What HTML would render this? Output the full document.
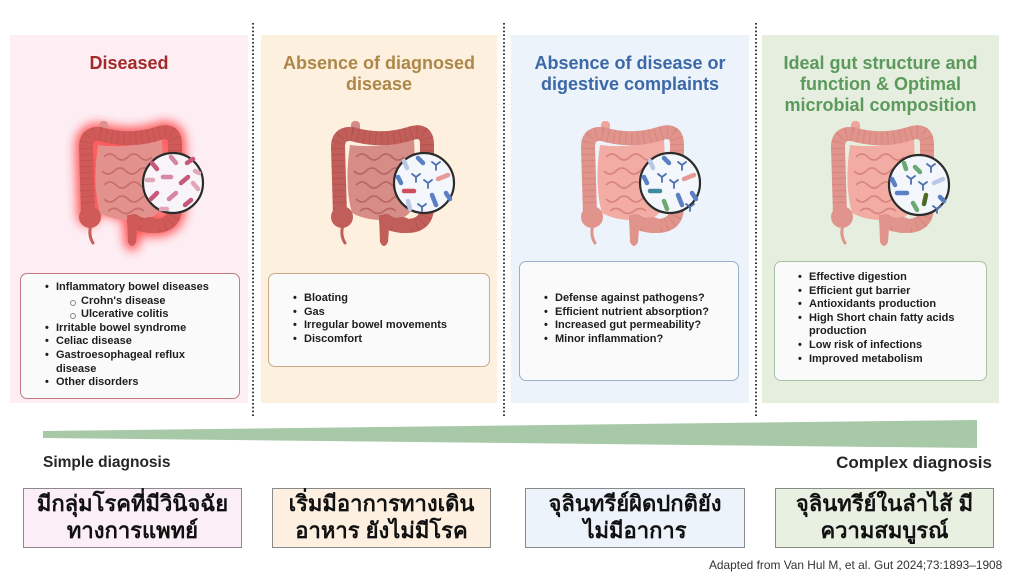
<!DOCTYPE html>
<html><head><meta charset="utf-8">
<style>
*{margin:0;padding:0;box-sizing:border-box}
body{width:1024px;height:576px;background:#fff;position:relative;overflow:hidden;font-family:"Liberation Sans","Noto Sans CJK SC",sans-serif}
.panel{position:absolute;top:35px;height:368px}
.title{position:absolute;left:0;right:0;top:53px;text-align:center;font-weight:bold;font-size:18px;line-height:21px}
.box{position:absolute;border-radius:7px;background:#fbfafa;border:1.5px solid}
.list{position:absolute;font-weight:bold;font-size:11px;line-height:13.6px;color:#1e1e1e;white-space:nowrap}
.li{position:relative;padding-left:11px}
.li:before{content:"•";position:absolute;left:0;top:0}
.sub{position:relative;padding-left:36px}
.sub:before{content:"";position:absolute;left:25px;top:5px;width:4px;height:4px;border:1px solid #888;border-radius:50%}
.th{position:absolute;top:488px;height:60px;border:1.3px solid #8a8a8a;text-align:center;font-weight:bold;font-size:22px;line-height:27px;padding-top:1px;color:#111;font-family:"Liberation Sans","Noto Sans CJK SC",sans-serif}
svg{position:absolute;left:0;top:0}
</style></head><body>

<div class="panel" style="left:10px;width:238px;background:#fdeef4"></div>
<div class="panel" style="left:261px;width:236px;background:#fdf0df"></div>
<div class="panel" style="left:511px;width:238px;background:#edf3fb"></div>
<div class="panel" style="left:762px;width:237px;background:#e6efdf"></div>

<svg width="1024" height="576" viewBox="0 0 1024 576">
<defs>
<filter id="gl" x="-30%" y="-30%" width="160%" height="160%"><feGaussianBlur stdDeviation="5"/></filter>
</defs>
<g stroke="#3a3a3a" stroke-width="2" stroke-dasharray="1.6 2.2" fill="none">
<line x1="253" y1="23" x2="253" y2="416"/>
<line x1="504" y1="23" x2="504" y2="416"/>
<line x1="756" y1="23" x2="756" y2="416"/>
</g>
<polygon points="43,431 977,420 977,448 43,438" fill="#a7c9a7"/>

<!-- Panel 1 gut -->
<g transform="translate(78,125)">
 <g filter="url(#gl)" opacity=".75">
  <path d="M10 90 L8 22 Q8 8 22 9 Q52 18 82 8 Q97 4 97 20 L97 82 Q97 100 78 101 Q62 101 56 96" stroke="#ff2a2a" stroke-width="22" fill="none" stroke-linecap="round"/>
  <path d="M20 20 Q50 24 84 14 L86 60 Q88 88 70 94 Q40 98 22 88 Q14 60 20 20Z" fill="#ff2a2a"/>
  <path d="M48 90 L50 118 Q54 126 58 118 L61 90Z" fill="#ff2a2a" stroke="#ff2a2a" stroke-width="8"/>
 </g>
 <rect x="21" y="-4" width="9" height="16" rx="4" fill="#e2908c"/>
 <path d="M20 20 Q50 24 84 14 L86 60 Q88 88 70 94 Q40 98 22 88 Q14 60 20 20Z" fill="#e2918d"/>
 <path d="M26 32 q6 -6 12 0 t12 0 t12 0 t12 0 M24 46 q6 6 12 0 t12 0 t12 0 t12 0 M26 60 q6 -6 12 0 t12 0 t12 0 t12 0 M26 74 q6 6 12 0 t12 0 t12 0 t12 0 M30 86 q6 -5 12 0 t12 0 t12 0" stroke="#c66e6b" stroke-width="1.6" fill="none"/>
 <path d="M10 90 L8 22 Q8 8 22 9 Q52 18 82 8 Q97 4 97 20 L97 82 Q97 100 78 101 Q62 101 56 96" stroke="#cf5a58" stroke-width="14" fill="none" stroke-linecap="round" stroke-linejoin="round"/>
 <path d="M10 90 L8 22 Q8 8 22 9 Q52 18 82 8 Q97 4 97 20 L97 82 Q97 100 78 101 Q62 101 56 96" stroke="#a84442" stroke-width="14" fill="none" stroke-dasharray="1 5" opacity=".3"/>
 <ellipse cx="12" cy="92" rx="11" ry="11" fill="#cf5a58"/>
 <ellipse cx="72" cy="100" rx="10" ry="8" fill="#cf5a58"/>
 <path d="M49 90 L50 117 Q54 125 58 117 L60 90Z" fill="#cf5a58"/>
 <path d="M13 100 Q10 110 15 118" stroke="#cf5a58" stroke-width="3" fill="none" stroke-linecap="round"/>
 <g transform="translate(95,58)">
  <circle r="30" fill="#f8f4f7" stroke="#2b2b2b" stroke-width="2.2"/>
  <g stroke-linecap="round" fill="none" stroke-width="4.5">
   <line x1="-21" y1="-20" x2="-16" y2="-14" stroke="#c7587c"/>
   <line x1="-2" y1="-26" x2="3" y2="-20" stroke="#d686a2"/>
   <line x1="14" y1="-20" x2="20" y2="-24" stroke="#c7587c"/>
   <line x1="-26" y1="-3" x2="-20" y2="-3" stroke="#e0a6ba"/>
   <line x1="-10" y1="-6" x2="-2" y2="-6" stroke="#d686a2"/>
   <line x1="8" y1="0" x2="15" y2="-6" stroke="#c7587c"/>
   <line x1="20" y1="0" x2="25" y2="6" stroke="#e0a6ba"/>
   <line x1="-22" y1="16" x2="-16" y2="10" stroke="#c7587c"/>
   <line x1="-4" y1="16" x2="3" y2="10" stroke="#d686a2"/>
   <line x1="12" y1="22" x2="18" y2="17" stroke="#c7587c"/>
   <line x1="-12" y1="26" x2="-6" y2="26" stroke="#e0a6ba"/>
   <line x1="22" y1="-12" x2="26" y2="-10" stroke="#e0a6ba"/>
  </g>
 </g>
</g>

<!-- Panel 2 gut -->
<g transform="translate(330,125)">
 <rect x="21" y="-4" width="9" height="16" rx="4" fill="#d48b87"/>
 <path d="M20 20 Q50 24 84 14 L86 60 Q88 88 70 94 Q40 98 22 88 Q14 60 20 20Z" fill="#d68c87"/>
 <path d="M26 32 q6 -6 12 0 t12 0 t12 0 t12 0 M24 46 q6 6 12 0 t12 0 t12 0 t12 0 M26 60 q6 -6 12 0 t12 0 t12 0 t12 0 M26 74 q6 6 12 0 t12 0 t12 0 t12 0 M30 86 q6 -5 12 0 t12 0 t12 0" stroke="#b86763" stroke-width="1.6" fill="none"/>
 <path d="M10 90 L8 22 Q8 8 22 9 Q52 18 82 8 Q97 4 97 20 L97 82 Q97 100 78 101 Q62 101 56 96" stroke="#c25e5a" stroke-width="14" fill="none" stroke-linecap="round" stroke-linejoin="round"/>
 <path d="M10 90 L8 22 Q8 8 22 9 Q52 18 82 8 Q97 4 97 20 L97 82 Q97 100 78 101 Q62 101 56 96" stroke="#923e3b" stroke-width="14" fill="none" stroke-dasharray="1 5" opacity=".3"/>
 <ellipse cx="12" cy="92" rx="11" ry="11" fill="#c25e5a"/>
 <ellipse cx="72" cy="100" rx="10" ry="8" fill="#c25e5a"/>
 <path d="M49 90 L50 117 Q54 125 58 117 L60 90Z" fill="#c25e5a"/>
 <path d="M13 100 Q10 110 15 118" stroke="#c25e5a" stroke-width="3" fill="none" stroke-linecap="round"/>
 <g transform="translate(94,58)">
  <circle r="30" fill="#f3f7fc" stroke="#2b2b2b" stroke-width="2.2"/>
  <g stroke-linecap="round" fill="none" stroke-width="4.5">
   <line x1="-20" y1="-22" x2="-17" y2="-15" stroke="#b9c8e6"/>
   <line x1="-6" y1="-25" x2="-1" y2="-20" stroke="#5a7fc2"/>
   <line x1="14" y1="-4" x2="24" y2="-8" stroke="#e59a98"/>
   <line x1="-20" y1="8" x2="-10" y2="8" stroke="#d04e5e"/>
   <line x1="8" y1="12" x2="12" y2="22" stroke="#5a7fc2"/>
   <line x1="-16" y1="18" x2="-14" y2="26" stroke="#b9c8e6"/>
   <line x1="22" y1="10" x2="26" y2="16" stroke="#5a7fc2"/>
   <line x1="-26" y1="-6" x2="-23" y2="0" stroke="#5a7fc2"/>
  </g>
  <g stroke="#4d6fae" stroke-width="1.8" fill="none" stroke-linecap="round">
   <path d="M12 -18 v5 M12 -18 l-4 -3 M12 -18 l4 -3"/>
   <path d="M-8 -6 v5 M-8 -6 l-4 -3 M-8 -6 l4 -3"/>
   <path d="M4 0 v5 M4 0 l-4 -3 M4 0 l4 -3"/>
   <path d="M-2 24 v4 M-2 24 l-4 -3 M-2 24 l4 -3"/>
  </g>
 </g>
</g>

<!-- Panel 3 gut -->
<g transform="translate(580,125)">
 <rect x="21" y="-4" width="9" height="16" rx="4" fill="#efa59c"/>
 <path d="M20 20 Q50 24 84 14 L86 60 Q88 88 70 94 Q40 98 22 88 Q14 60 20 20Z" fill="#f2aca3"/>
 <path d="M26 32 q6 -6 12 0 t12 0 t12 0 t12 0 M24 46 q6 6 12 0 t12 0 t12 0 t12 0 M26 60 q6 -6 12 0 t12 0 t12 0 t12 0 M26 74 q6 6 12 0 t12 0 t12 0 t12 0 M30 86 q6 -5 12 0 t12 0 t12 0" stroke="#d8857e" stroke-width="1.6" fill="none"/>
 <path d="M10 90 L8 22 Q8 8 22 9 Q52 18 82 8 Q97 4 97 20 L97 82 Q97 100 78 101 Q62 101 56 96" stroke="#e0948c" stroke-width="14" fill="none" stroke-linecap="round" stroke-linejoin="round"/>
 <path d="M10 90 L8 22 Q8 8 22 9 Q52 18 82 8 Q97 4 97 20 L97 82 Q97 100 78 101 Q62 101 56 96" stroke="#b86a63" stroke-width="14" fill="none" stroke-dasharray="1 5" opacity=".3"/>
 <ellipse cx="12" cy="92" rx="11" ry="11" fill="#e0948c"/>
 <ellipse cx="72" cy="100" rx="10" ry="8" fill="#e0948c"/>
 <path d="M49 90 L50 117 Q54 125 58 117 L60 90Z" fill="#e0948c"/>
 <path d="M13 100 Q10 110 15 118" stroke="#e0948c" stroke-width="3" fill="none" stroke-linecap="round"/>
 <g transform="translate(90,58)">
  <circle r="30" fill="#f3f7fc" stroke="#2b2b2b" stroke-width="2.2"/>
  <g stroke-linecap="round" fill="none" stroke-width="4.5">
   <line x1="-20" y1="-22" x2="-17" y2="-15" stroke="#b9c8e6"/>
   <line x1="-6" y1="-25" x2="-1" y2="-20" stroke="#5a7fc2"/>
   <line x1="14" y1="-4" x2="24" y2="-8" stroke="#e59a98"/>
   <line x1="-20" y1="8" x2="-10" y2="8" stroke="#3f8a9e"/>
   <line x1="-6" y1="18" x2="-3" y2="26" stroke="#6aaa72"/>
   <line x1="8" y1="12" x2="12" y2="22" stroke="#5a7fc2"/>
   <line x1="-26" y1="-6" x2="-23" y2="0" stroke="#5a7fc2"/>
   <line x1="22" y1="10" x2="26" y2="16" stroke="#5a7fc2"/>
  </g>
  <g stroke="#4d6fae" stroke-width="1.8" fill="none" stroke-linecap="round">
   <path d="M12 -18 v5 M12 -18 l-4 -3 M12 -18 l4 -3"/>
   <path d="M-8 -6 v5 M-8 -6 l-4 -3 M-8 -6 l4 -3"/>
   <path d="M4 0 v5 M4 0 l-4 -3 M4 0 l4 -3"/>
   <path d="M20 24 v4 M20 24 l-4 -3 M20 24 l4 -3"/>
  </g>
 </g>
</g>

<!-- Panel 4 gut -->
<g transform="translate(830,125)">
 <rect x="21" y="-4" width="9" height="16" rx="4" fill="#efa59c"/>
 <path d="M20 20 Q50 24 84 14 L86 60 Q88 88 70 94 Q40 98 22 88 Q14 60 20 20Z" fill="#f2aca3"/>
 <path d="M26 32 q6 -6 12 0 t12 0 t12 0 t12 0 M24 46 q6 6 12 0 t12 0 t12 0 t12 0 M26 60 q6 -6 12 0 t12 0 t12 0 t12 0 M26 74 q6 6 12 0 t12 0 t12 0 t12 0 M30 86 q6 -5 12 0 t12 0 t12 0" stroke="#d8857e" stroke-width="1.6" fill="none"/>
 <path d="M10 90 L8 22 Q8 8 22 9 Q52 18 82 8 Q97 4 97 20 L97 82 Q97 100 78 101 Q62 101 56 96" stroke="#e0948c" stroke-width="14" fill="none" stroke-linecap="round" stroke-linejoin="round"/>
 <path d="M10 90 L8 22 Q8 8 22 9 Q52 18 82 8 Q97 4 97 20 L97 82 Q97 100 78 101 Q62 101 56 96" stroke="#b86a63" stroke-width="14" fill="none" stroke-dasharray="1 5" opacity=".3"/>
 <ellipse cx="12" cy="92" rx="11" ry="11" fill="#e0948c"/>
 <ellipse cx="72" cy="100" rx="10" ry="8" fill="#e0948c"/>
 <path d="M49 90 L50 117 Q54 125 58 117 L60 90Z" fill="#e0948c"/>
 <path d="M13 100 Q10 110 15 118" stroke="#e0948c" stroke-width="3" fill="none" stroke-linecap="round"/>
 <g transform="translate(89,60)">
  <circle r="30" fill="#f3f7fc" stroke="#2b2b2b" stroke-width="2.2"/>
  <g stroke-linecap="round" fill="none" stroke-width="4.5">
   <line x1="-15" y1="-22" x2="-13" y2="-16" stroke="#6aaa72"/>
   <line x1="-4" y1="-18" x2="1" y2="-13" stroke="#6aaa72"/>
   <line x1="15" y1="-2" x2="24" y2="-6" stroke="#b9c8e6"/>
   <line x1="-22" y1="8" x2="-12" y2="8" stroke="#5a7fc2"/>
   <line x1="-6" y1="18" x2="-2" y2="25" stroke="#6aaa72"/>
   <line x1="7" y1="10" x2="5" y2="19" stroke="#4c6a24"/>
   <line x1="-27" y1="-6" x2="-24" y2="0" stroke="#5a7fc2"/>
   <line x1="21" y1="12" x2="25" y2="16" stroke="#5a7fc2"/>
  </g>
  <g stroke="#4d6fae" stroke-width="1.8" fill="none" stroke-linecap="round">
   <path d="M12 -18 v5 M12 -18 l-4 -3 M12 -18 l4 -3"/>
   <path d="M-8 -6 v5 M-8 -6 l-4 -3 M-8 -6 l4 -3"/>
   <path d="M4 0 v5 M4 0 l-4 -3 M4 0 l4 -3"/>
   <path d="M18 24 v4 M18 24 l-4 -3 M18 24 l4 -3"/>
  </g>
 </g>
</g>
</svg>

<div class="title" style="left:10px;right:auto;width:238px;color:#a3292b">Diseased</div>
<div class="title" style="left:261px;right:auto;width:236px;color:#ad8748">Absence of diagnosed<br>disease</div>
<div class="title" style="left:511px;right:auto;width:238px;color:#3b68a6">Absence of disease or<br>digestive complaints</div>
<div class="title" style="left:762px;right:auto;width:237px;color:#5b995c">Ideal gut structure and<br>function &amp; Optimal<br>microbial composition</div>

<div class="box" style="left:20px;top:273px;width:220px;height:126px;border-color:#c47a82"></div>
<div class="box" style="left:268px;top:273px;width:222px;height:94px;border-color:#c9aa84"></div>
<div class="box" style="left:519px;top:261px;width:220px;height:120px;border-color:#9ab0ca"></div>
<div class="box" style="left:774px;top:261px;width:213px;height:120px;border-color:#a9c2a2"></div>

<div class="list" style="left:45px;top:281px">
<div class="li">Inflammatory bowel diseases</div>
<div class="sub">Crohn's disease</div>
<div class="sub">Ulcerative colitis</div>
<div class="li">Irritable bowel syndrome</div>
<div class="li">Celiac disease</div>
<div class="li">Gastroesophageal reflux<br>disease</div>
<div class="li">Other disorders</div>
</div>
<div class="list" style="left:293px;top:292px">
<div class="li">Bloating</div>
<div class="li">Gas</div>
<div class="li">Irregular bowel movements</div>
<div class="li">Discomfort</div>
</div>
<div class="list" style="left:544px;top:292px">
<div class="li">Defense against pathogens?</div>
<div class="li">Efficient nutrient absorption?</div>
<div class="li">Increased gut permeability?</div>
<div class="li">Minor inflammation?</div>
</div>
<div class="list" style="left:798px;top:271px">
<div class="li">Effective digestion</div>
<div class="li">Efficient gut barrier</div>
<div class="li">Antioxidants production</div>
<div class="li">High Short chain fatty acids<br>production</div>
<div class="li">Low risk of infections</div>
<div class="li">Improved metabolism</div>
</div>

<div style="position:absolute;left:43px;top:454px;font-weight:bold;font-size:15.5px;color:#262626;line-height:18px">Simple diagnosis</div>
<div style="position:absolute;right:32px;top:453px;font-weight:bold;font-size:17px;color:#262626;line-height:20px">Complex diagnosis</div>

<div class="th" style="left:23px;width:219px;background:#fbeef6">มีกลุ่มโรคที่มีวินิจฉัย<br>ทางการแพทย์</div>
<div class="th" style="left:272px;width:219px;background:#fdf0e0">เริ่มมีอาการทางเดิน<br>อาหาร ยังไม่มีโรค</div>
<div class="th" style="left:525px;width:220px;background:#edf3fb">จุลินทรีย์ผิดปกติยัง<br>ไม่มีอาการ</div>
<div class="th" style="left:775px;width:219px;background:#e8f0e2">จุลินทรีย์ในลำไส้ มี<br>ความสมบูรณ์</div>

<div style="position:absolute;left:709px;top:558px;font-size:11.9px;color:#333;line-height:14px;white-space:nowrap">Adapted from Van Hul M, et al. Gut 2024;73:1893–1908</div>
</body></html>
